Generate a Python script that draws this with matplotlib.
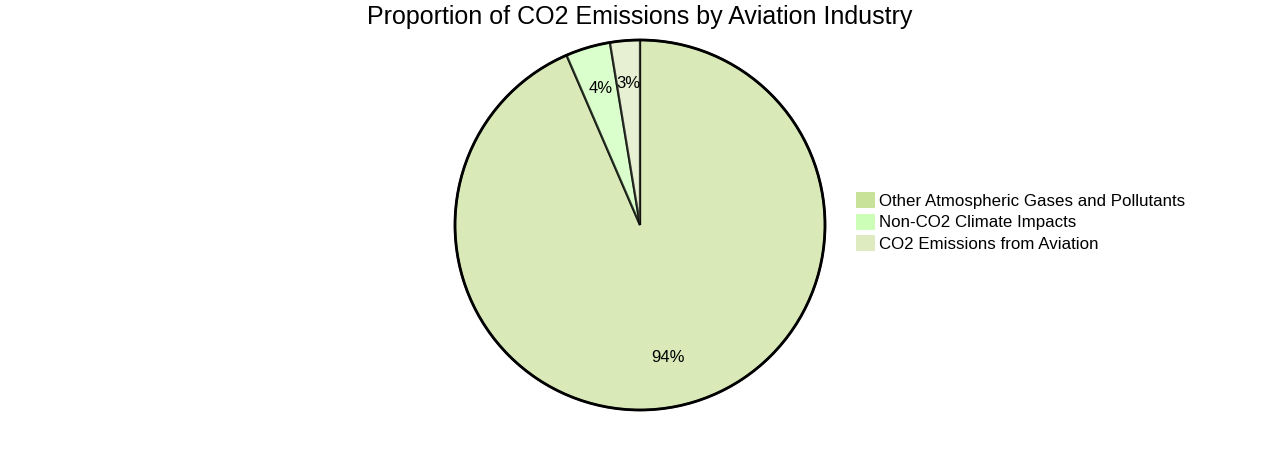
import matplotlib.pyplot as plt
from matplotlib.patches import Circle, Patch

plt.rcParams['font.family'] = ['Liberation Sans', 'DejaVu Sans']

# Data
labels = ['Other Atmospheric Gases and Pollutants', 'Non-CO2 Climate Impacts', 'CO2 Emissions from Aviation']
values = [93.5, 3.9, 2.6]
colors = ['#c9e29a', '#ccfeb8', '#deebc1']

fig = plt.figure(figsize=(12.8, 4.5), dpi=100)

# Pie axes: centre at (640, 225) px, radius 185 px
ax = fig.add_axes([455 / 1280, 40 / 450, 370 / 1280, 370 / 450])

wedges, texts, autotexts = ax.pie(
    values,
    colors=colors,
    startangle=90,
    counterclock=False,
    autopct='%.0f%%',
    pctdistance=0.75,
    wedgeprops=dict(edgecolor='black', linewidth=1.6, alpha=0.7),
    textprops=dict(fontsize=12, color='black'),
)
for w in wedges:
    w.set_edgecolor((0, 0, 0, 1))
# nudge percentage labels up a little
for t in autotexts:
    x, y = t.get_position()
    t.set_position((x, y + 0.02))

ax.add_patch(Circle((0, 0), 1, fill=False, edgecolor='black', linewidth=2, clip_on=False))
ax.set_xlim(-1, 1)
ax.set_ylim(-1, 1)
ax.set_aspect('equal')
ax.axis('off')

fig.text(0.5, 1 - 17 / 450, 'Proportion of CO2 Emissions by Aviation Industry',
         ha='center', va='center', fontsize=18)

handles = [Patch(facecolor=c, edgecolor='none') for c in colors]
fig.legend(handles, labels, loc='center left', bbox_to_anchor=(848 / 1280, 1 - 222 / 450),
           frameon=False, fontsize=12.2, handlelength=1.1, handleheight=1.1,
           handletextpad=0.25, labelspacing=0.28, borderpad=0)

fig.savefig('out.png', dpi=100)
